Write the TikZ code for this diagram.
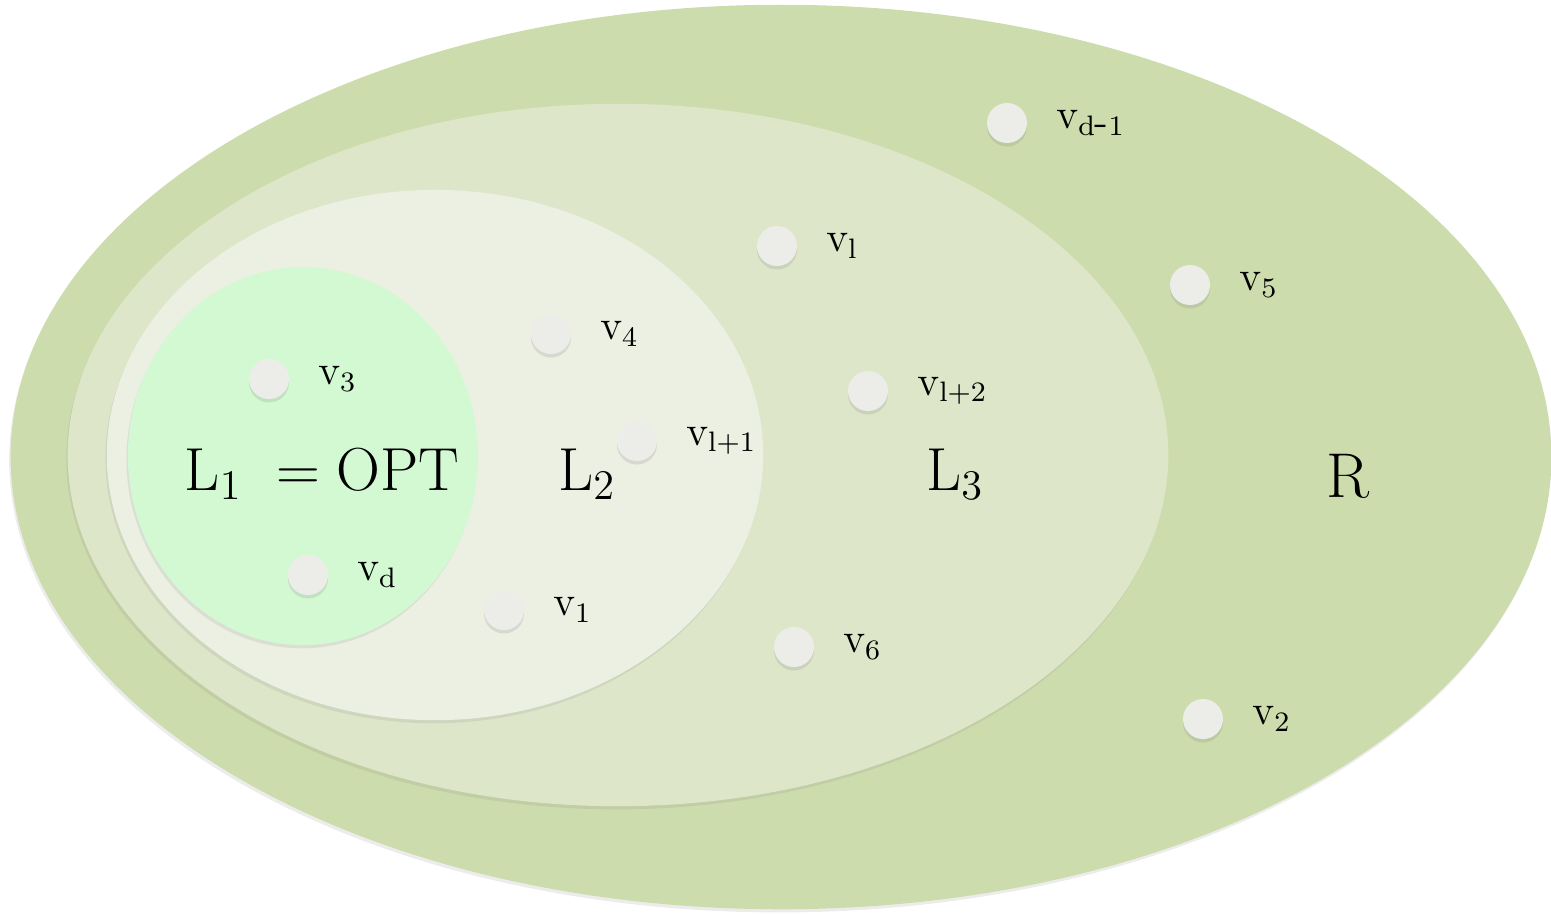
\documentclass[tikz,border=0pt]{standalone}
\usepackage{xcolor}
\usepackage{tikz}
\usetikzlibrary{positioning,shapes.geometric,shadows}
\definecolor{SetOuter}{HTML}{CDDCAC}
\definecolor{SetThird}{HTML}{DEE6C9}
\definecolor{SetSecond}{HTML}{ECF0E2}
\definecolor{SetFirst}{HTML}{D3F9D3}
\definecolor{DotGrey}{HTML}{ECEDE8}

\begin{document}
\begin{tikzpicture}[x=0.01cm, y=-0.01cm, every node/.style={font=\fontsize{12}{14}\selectfont}, region/.style={ellipse, inner sep=0pt, drop shadow={shadow xshift=-0.4pt, shadow yshift=-0.9pt, opacity=0.15}}, dot/.style={circle, inner sep=0pt, minimum size=0.4cm, fill=DotGrey, drop shadow={shadow xshift=0pt, shadow yshift=-1pt, opacity=0.2}}, vlabel/.style={right=0.28cm of #1, inner sep=0pt}, setname/.style={font=\fontsize{18}{20}\selectfont, inner sep=0pt}]
\useasboundingbox (0,0) rectangle (1551,914);
% nested sets
\node[region, fill=SetOuter, minimum width=15.40cm, minimum height=9.04cm] (rset) at (781,457) {};
\node[region, fill=SetThird, minimum width=11.00cm, minimum height=7.02cm] (lthree) at (618,455) {};
\node[region, fill=SetSecond, minimum width=6.56cm, minimum height=5.30cm] (ltwo) at (435,455) {};
\node[region, fill=SetFirst, minimum width=3.50cm, minimum height=3.78cm] (lone) at (303,456) {};
% set names
\node[setname] (optname) at (322,474) {$\mathrm{L}_1\;= \mathrm{OPT}$};
\node[setname] (ltwoname) at (587,474) {$\mathrm{L}_2$};
\node[setname] (lthreename) at (955,474) {$\mathrm{L}_3$};
\node[setname] (rname) at (1348,476) {R};
% elements
\node[dot] (vdm) at (1007,123) {};
\node[dot] (vl) at (777,246) {};
\node[dot] (vfive) at (1190,285) {};
\node[dot] (vfour) at (551,334) {};
\node[dot] (vthree) at (269,379) {};
\node[dot] (vltwo) at (868,391) {};
\node[dot] (vlone) at (637,441) {};
\node[dot] (vd) at (308,575) {};
\node[dot] (vone) at (504,610) {};
\node[dot] (vsix) at (794,647) {};
\node[dot] (vtwo) at (1203,719) {};
\node[vlabel=vdm] {$\mathrm{v}_{\mathrm{d\mbox{-}1}}$};
\node[vlabel=vl] {$\mathrm{v}_{\mathrm{l}}$};
\node[vlabel=vfive] {$\mathrm{v}_{5}$};
\node[vlabel=vfour] {$\mathrm{v}_{4}$};
\node[vlabel=vthree] {$\mathrm{v}_{3}$};
\node[vlabel=vltwo] {$\mathrm{v}_{\mathrm{l+2}}$};
\node[vlabel=vlone] {$\mathrm{v}_{\mathrm{l+1}}$};
\node[vlabel=vd] {$\mathrm{v}_{\mathrm{d}}$};
\node[vlabel=vone] {$\mathrm{v}_{1}$};
\node[vlabel=vsix] {$\mathrm{v}_{6}$};
\node[vlabel=vtwo] {$\mathrm{v}_{2}$};
\end{tikzpicture}
\end{document}
